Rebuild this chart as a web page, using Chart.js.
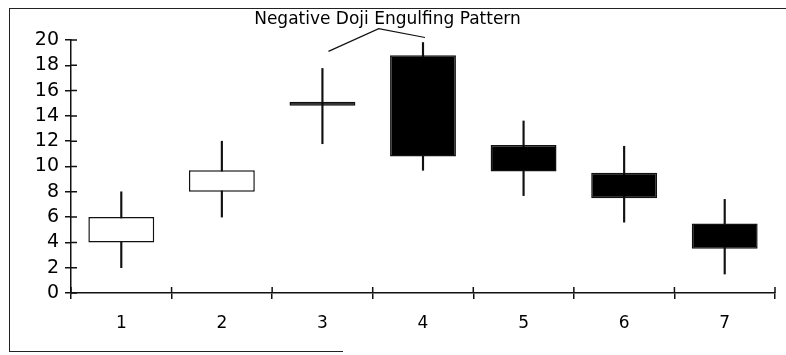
<!DOCTYPE html>
<html>
<head>
<meta charset="utf-8">
<script src="https://cdn.jsdelivr.net/npm/chart.js@4.4.1/dist/chart.umd.min.js"></script>
<style>
    body { margin: 0; background: #fff; }
    #wrap { position: relative; width: 786px; height: 355px; }
    #frame { position: absolute; left: 9px; top: 8px; width: 790px; height: 343px;
             border-left: 1.5px solid #222; border-top: 1.5px solid #222; }
    #frameBottom { position: absolute; left: 9px; top: 351px; width: 334px; border-top: 1.5px solid #222; }
    canvas { position: absolute; left: 0; top: 0; }
</style>
</head>
<body>
<div id="wrap">
    <div id="frame"></div>
    <div id="frameBottom"></div>
    <canvas id="candles" width="786" height="355"></canvas>
</div>
<script>
const days = ['1', '2', '3', '4', '5', '6', '7'];
const openVals = [4, 8, 14.8, 18.8, 11.7, 9.5, 5.5];
const closeVals = [6, 9.7, 14.8, 10.8, 9.6, 7.5, 3.5];
const highVals = [8, 12, 17.75, 19.8, 13.6, 11.6, 7.4];
const lowVals = [2, 6, 11.8, 9.7, 7.7, 5.6, 1.5];
const yTicks = [0, 2, 4, 6, 8, 10, 12, 14, 16, 18, 20];
const titleText = 'Negative Doji Engulfing Pattern';

const bodies = days.map((d, i) => [openVals[i], closeVals[i]]);
const wicks = days.map((d, i) => [lowVals[i], highVals[i]]);
const bodyFill = days.map((d, i) => closeVals[i] > openVals[i] ? '#ffffff' : '#000000');

// short tick marks on the inside of both axes, and the pointer lines to candles 3 and 4
const extras = {
    id: 'extras',
    afterDraw(chart) {
        const ctx = chart.ctx;
        const x = chart.scales.x;
        const y = chart.scales.y;
        ctx.save();
        ctx.strokeStyle = '#111';
        ctx.lineWidth = 1.5;
        ctx.beginPath();
        yTicks.forEach(v => {
            const py = y.getPixelForValue(v);
            ctx.moveTo(x.left, py);
            ctx.lineTo(x.left + 6, py);
        });
        const step = x.getPixelForValue(1) - x.getPixelForValue(0);
        for (let i = 0; i <= days.length; i++) {
            const px = x.getPixelForValue(0) - step / 2 + i * step;
            ctx.moveTo(px, y.bottom);
            ctx.lineTo(px, y.bottom - 6);
        }
        ctx.stroke();

        const x0 = x.getPixelForValue(0);
        const apexX = x0 + 2.56 * step;
        const apexY = y.getPixelForValue(20.9);
        ctx.lineWidth = 1.2;
        ctx.beginPath();
        ctx.moveTo(x0 + 2.06 * step, y.getPixelForValue(19.1));
        ctx.lineTo(apexX, apexY);
        ctx.lineTo(x0 + 3.02 * step, y.getPixelForValue(20.2));
        ctx.stroke();
        ctx.restore();
    }
};

new Chart(document.getElementById('candles'), {
    type: 'bar',
    data: {
        labels: days,
        datasets: [{
            label: 'High-Low',
            data: wicks,
            backgroundColor: '#111',
            barThickness: 1.5,
            grouped: false,
            order: 2
        }, {
            label: 'Open-Close',
            data: bodies,
            backgroundColor: bodyFill,
            borderColor: '#111',
            borderWidth: 1.5,
            borderSkipped: false,
            categoryPercentage: 1,
            barPercentage: 0.655,
            minBarLength: 4,
            grouped: false,
            order: 1
        }]
    },
    plugins: [extras],
    options: {
        responsive: false,
        animation: false,
        layout: { padding: { left: 0, right: 11, top: 0, bottom: 0 } },
        plugins: {
            legend: { display: false },
            tooltip: { enabled: false },
            title: {
                display: true,
                text: titleText,
                color: '#000',
                font: { family: 'DejaVu Sans', size: 17, weight: 'normal' },
                padding: { top: 9, bottom: 10.6 }
            }
        },
        scales: {
            x: {
                offset: true,
                afterFit(scale) { scale.height = 62; },
                border: { color: '#111', width: 1.5 },
                grid: { offset: true, drawOnChartArea: false, drawTicks: true, tickLength: 6, color: '#111', lineWidth: 1.5 },
                ticks: { color: '#000', padding: 14, font: { family: 'DejaVu Sans', size: 17 } }
            },
            y: {
                min: 0,
                max: 20,
                afterFit(scale) { scale.width = 71; },
                afterBuildTicks(scale) { scale.ticks = yTicks.map(v => ({ value: v })); },
                border: { color: '#111', width: 1.5 },
                grid: { drawOnChartArea: false, drawTicks: true, tickLength: 6, color: '#111', lineWidth: 1.5 },
                ticks: { color: '#000', padding: 6, autoSkip: false, font: { family: 'DejaVu Sans', size: 19 } }
            }
        }
    }
});
</script>
</body>
</html>
